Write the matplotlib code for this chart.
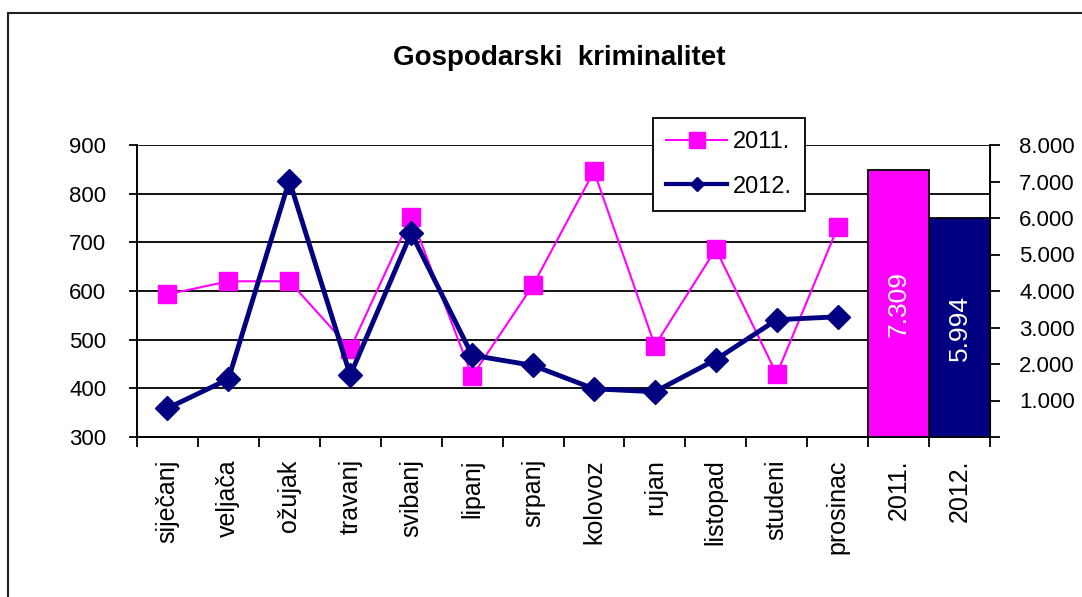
import numpy as np
import matplotlib.pyplot as plt
from matplotlib.patches import Rectangle
from matplotlib.lines import Line2D
from matplotlib.ticker import FuncFormatter, FixedLocator

plt.rcParams['font.family'] = ['Liberation Sans', 'DejaVu Sans']

# data
months = ["siječanj", "veljača", "ožujak", "travanj", "svibanj", "lipanj",
          "srpanj", "kolovoz", "rujan", "listopad", "studeni", "prosinac"]
y2011 = [593, 620, 620, 481, 753, 425, 612, 846, 488, 686, 429, 731]
y2012 = [359, 419, 827, 427, 719, 468, 447, 399, 393, 459, 541, 547]
year_labels = ["2011.", "2012."]
year_totals = [7309, 5994]

pink = '#FF00FF'
navy = '#000080'

fig = plt.figure(figsize=(10.82, 5.97), dpi=100)
W, H = 1082, 597
ax = fig.add_axes([137 / W, 1 - 437 / H, 853 / W, 292 / H])
ax2 = ax.twinx()

x = np.arange(len(months))
ax.plot(x, y2011, color=pink, lw=1.5, marker='s', ms=13, mec=pink, zorder=3)
ax.plot(x, y2012, color=navy, lw=3.5, marker='D', ms=12, mec=navy, zorder=4)

# yearly totals as bars on the right axis
xb = np.arange(len(months), len(months) + len(year_totals))
bars = ax2.bar(xb, year_totals, width=1.0, color=[pink, navy],
               edgecolor='black', linewidth=1.3, zorder=2)
for b, v in zip(bars, year_totals):
    ax2.text(b.get_x() + b.get_width() / 2, v / 2, f"{v:,}".replace(',', '.'),
             rotation=90, ha='center', va='center', color='white', fontsize=19)

# left axis
ax.set_xlim(-0.5, len(months) + len(year_totals) - 0.5)
ax.set_ylim(300, 900)
ax.set_yticks(range(300, 901, 100))
ax.grid(axis='y', color='#111111', lw=1.4)
ax.set_axisbelow(True)
ax.tick_params(axis='y', direction='out', length=6, width=1.3, pad=16, labelsize=16)

# x ticks: labels at centres, marks at category boundaries
ax.set_xticks(np.arange(len(months) + len(year_totals)))
ax.set_xticklabels(months + year_labels, rotation=90, va='top', ha='center')
ax.tick_params(axis='x', which='major', length=0, pad=16, labelsize=18)
ax.xaxis.set_minor_locator(FixedLocator(np.arange(-0.5, 14.0, 1.0)))
ax.tick_params(axis='x', which='minor', direction='out', length=7, width=1.3)

ax.spines['top'].set_visible(False)
ax2.spines['top'].set_visible(False)
for s in ['left', 'bottom']:
    ax.spines[s].set_linewidth(1.4)
ax2.spines['right'].set_linewidth(1.4)
ax2.spines['left'].set_visible(False)
ax2.spines['bottom'].set_visible(False)

# right axis
ax2.set_ylim(0, 8000)
ax2.set_yticks(range(0, 8001, 1000))
ax2.yaxis.set_major_formatter(FuncFormatter(
    lambda v, p: '' if v == 0 else f"{int(v):,}".replace(',', '.')))
ax2.tick_params(axis='y', direction='out', length=7, width=1.3, pad=14, labelsize=16)

# legend
handles = [Line2D([], [], color=pink, lw=1.5, marker='s', ms=11, mec=pink),
           Line2D([], [], color=navy, lw=3, marker='D', ms=7, mec=navy)]
leg = ax2.legend(handles, year_labels, loc='upper left',
                 bbox_to_anchor=(0.605, 1.092), borderaxespad=0,
                 fancybox=False, framealpha=1, edgecolor='black',
                 fontsize=17, handlelength=2.6, labelspacing=0.95,
                 borderpad=0.55, handletextpad=0.25)
leg.get_frame().set_linewidth(1.3)

fig.text(559 / W, 1 - 58 / H, "Gospodarski  kriminalitet", ha='center',
         va='center', fontsize=20, fontweight='bold')

# outer chart border
fig.patches.append(Rectangle((8 / W, -0.5), 2, 1 - 13 / H + 0.5,
                             transform=fig.transFigure, fill=False,
                             edgecolor='#222222', lw=1.5))

fig.savefig('out.png', dpi=100)
